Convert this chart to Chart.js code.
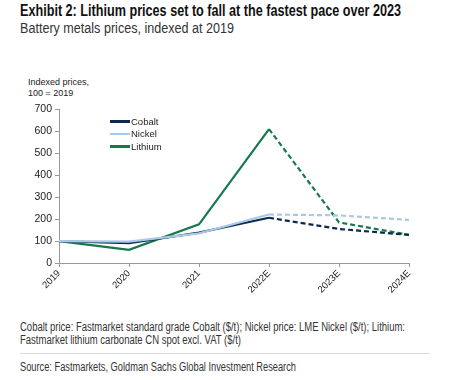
<!DOCTYPE html>
<html><head><meta charset="utf-8">
<script src="https://cdn.jsdelivr.net/npm/chart.js@4"></script>
<style>
body{margin:0;background:#fff;width:450px;height:380px;position:relative;overflow:hidden;font-family:"Liberation Sans",Arial,sans-serif;color:#222}
.t{position:absolute;left:20px;white-space:nowrap;transform-origin:0 0;line-height:14px}
#title{top:4px;font-weight:bold;font-size:16px;color:#111}
#sub{top:21px;font-size:14px;color:#333}
#ytitle{position:absolute;left:28px;top:77px;font-size:9px;line-height:10.5px;color:#222}
#wrap{position:absolute;left:0;top:100px;width:450px;height:200px}
#legend{position:absolute;left:110px;top:115px;font-size:9.5px;color:#222}
.li{height:12.5px;display:flex;align-items:center}
.sw{width:20px;height:2.5px;margin-right:1px}
#n1{top:320px;font-size:12px;color:#333}
#n2{top:333px;font-size:12px;color:#333}
#rule{position:absolute;left:20px;width:410px;top:353px;height:1px;background:#ddd}
#src{top:360px;font-size:12px;color:#333}
</style></head><body>
<div class="t" id="title" data-w="381">Exhibit 2: Lithium prices set to fall at the fastest pace over 2023</div>
<div class="t" id="sub" data-w="214">Battery metals prices, indexed at 2019</div>
<div id="ytitle">Indexed prices,<br>100 = 2019</div>
<div id="wrap"><canvas id="c"></canvas></div>
<div id="legend">
<div class="li"><span class="sw" style="background:#0c2a4d"></span>Cobalt</div>
<div class="li"><span class="sw" style="background:#a9c9e8"></span>Nickel</div>
<div class="li"><span class="sw" style="background:#17794a"></span>Lithium</div>
</div>
<div class="t" id="n1" data-w="385">Cobalt price: Fastmarket standard grade Cobalt ($/t); Nickel price: LME Nickel ($/t); Lithium:</div>
<div class="t" id="n2" data-w="221">Fastmarket lithium carbonate CN spot excl. VAT ($/t)</div>
<div id="rule"></div>
<div class="t" id="src" data-w="276">Source: Fastmarkets, Goldman Sachs Global Investment Research</div>
<script>
document.querySelectorAll('[data-w]').forEach(el => {
  const w = el.getBoundingClientRect().width;
  el.style.transform = 'scaleX(' + (parseFloat(el.dataset.w) / w) + ')';
});
const categories = ["2019","2020","2021","2022E","2023E","2024E"];
const cobalt  = [100, 90, 138, 206, 155, 128];
const nickel  = [100, 97, 135, 221, 217, 196];
const lithium = [100, 60, 176, 610, 185, 128];
const yTicks = [0,100,200,300,400,500,600,700];
const firstEstimate = 3;

const dash = ctx => ctx.p0DataIndex >= firstEstimate ? [5,3] : undefined;
function ds(label, data, color){
  return {label, data, borderColor: color, backgroundColor: color, borderWidth: 2.2,
    pointRadius: 0, tension: 0, segment: {borderDash: dash}};
}
new Chart(document.getElementById('c'), {
  type: 'line',
  data: {labels: categories, datasets: [ds('Nickel', nickel, '#a9c9e8'), ds('Cobalt', cobalt, '#0c2a4d'), ds('Lithium', lithium, '#17794a')]},
  options: {
    responsive: true, maintainAspectRatio: false, animation: false,
    layout: {padding: {top: 8, right: 41, left: 0, bottom: 0}},
    plugins: {legend: {display: false}, tooltip: {enabled: false}},
    scales: {
      x: {offset: false,
        grid: {display: true, drawOnChartArea: false, tickLength: 4, color: '#999'},
        border: {color: '#999'},
        ticks: {minRotation: 45, maxRotation: 45, padding: 1, color: '#222', font: {family: 'Liberation Sans', size: 9.5}},
        afterFit: s => { s.height = 37; }
      },
      y: {min: 0, max: 700,
        afterBuildTicks: s => { s.ticks = yTicks.map(v => ({value: v})); },
        grid: {display: true, drawOnChartArea: false, tickLength: 4, color: '#999'},
        border: {color: '#999'},
        ticks: {padding: 3, color: '#222', font: {family: 'Liberation Sans', size: 10.5}},
        afterFit: s => { s.width = 59; }
      }
    }
  }
});
</script>
</body></html>
